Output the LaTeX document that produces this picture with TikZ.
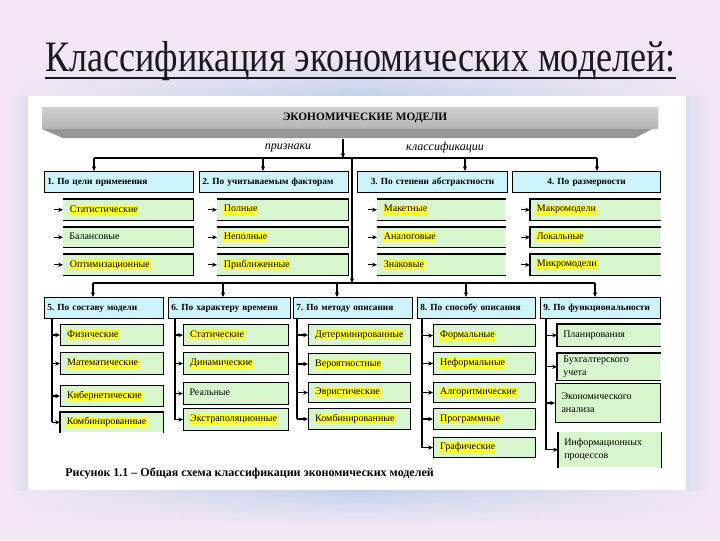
\documentclass[tikz,border=0pt]{standalone}
\usepackage{fontspec}
\setmainfont{Liberation Serif}
\usepackage{graphicx}
\usetikzlibrary{arrows.meta,calc,fadings}
\definecolor{bgbase}{RGB}{243,231,245}
\definecolor{glowblue}{RGB}{194,210,236}
\definecolor{hdrcyan}{RGB}{204,244,250}
\definecolor{itmgreen}{RGB}{216,246,206}
\definecolor{hlyellow}{RGB}{255,255,50}
\definecolor{barlight}{RGB}{208,208,208}
\definecolor{barmid}{RGB}{182,182,182}
\definecolor{bardark}{RGB}{150,150,150}
\definecolor{titlecol}{RGB}{25,25,30}
\tikzfading[name=hfade, left color=transparent!100, right color=transparent!100, middle color=transparent!0]
\tikzset{
  hdrbox/.style={anchor=north west, fill=hdrcyan, draw=black, line width=0.9pt, inner xsep=2pt, inner ysep=0pt, font=\bfseries\fontsize{7}{8.5}\selectfont},
  item/.style={anchor=north west, fill=itmgreen, inner xsep=4.5pt, inner ysep=0pt, align=left, font=\fontsize{7.5}{9.5}\selectfont},
  itemb/.style={draw=black, line width=0.8pt},
  edge/.style={line width=0.8pt},
  conn/.style={line width=0.9pt},
  arr/.style={conn, -{Stealth[length=3.6pt,width=3.2pt]}},
  lbl/.style={font=\itshape\fontsize{9}{10}\selectfont, inner sep=0pt},
}
\newcommand\hl[1]{{\setlength{\fboxsep}{0.5pt}\colorbox{hlyellow}{\vphantom{Ку}#1}}}
\newcommand\hdr[7][left]{\pgfmathsetmacro\hdrw{(#5-#3)*0.75-4}\pgfmathsetmacro\hdrh{(#6-#4)*0.75}%
  \node[hdrbox, align=#1, text width=\hdrw pt, minimum height=\hdrh pt] (#2) at (#3,#4) {\vphantom{Ку}#7};}
\newcommand\itm[7][]{\pgfmathsetmacro\itmw{(#5-#3)*0.75-9}\pgfmathsetmacro\itmh{(#6-#4)*0.75}%
  \node[item, #1, text width=\itmw pt, minimum height=\itmh pt] (#2) at (#3,#4) {\vphantom{Ку}#7};}
\newcommand\sTRB[1]{\draw[edge] (#1.north west) -- (#1.north east) -- (#1.south east) -- (#1.south west);}
\newcommand\sTB[1]{\draw[edge] (#1.north west) -- (#1.north east) (#1.south west) -- (#1.south east);}
\newcommand\sLTB[1]{\draw[edge] (#1.north east) -- (#1.north west) -- (#1.south west) -- (#1.south east);}
\newcommand\sLR[1]{\draw[edge] (#1.north west) -- (#1.south west) (#1.north east) -- (#1.south east);}
\newcommand\sLTR[1]{\draw[edge] (#1.south west) -- (#1.north west) -- (#1.north east) -- (#1.south east);}
\begin{document}
\frenchspacing
\begin{tikzpicture}[x=0.75pt,y=-0.75pt]
\useasboundingbox (0,0) rectangle (720,540);
% background
\fill[bgbase] (0,0) rectangle (720,540);
\shade[top color=bgbase, bottom color=glowblue, path fading=hfade] (0,56) rectangle (720,96);
\shade[top color=glowblue, bottom color=bgbase, path fading=hfade] (0,490) rectangle (720,526);
\shade[left color=bgbase, right color=glowblue!45!bgbase] (10,96) rectangle (28,490);
\shade[left color=glowblue!45!bgbase, right color=bgbase] (686,96) rectangle (710,490);
\fill[white] (28,96) rectangle (686,490);
% title
\node[inner sep=0pt, anchor=base, text=titlecol] (title) at (360.5,71)
  {\resizebox{473pt}{!}{\scalebox{1}[1.2]{\fontsize{28}{30}\selectfont Классификация экономических моделей:}}};
\draw[titlecol, line width=1.6pt] ($(title.base west)+(0,7)$) -- ($(title.base east)+(0,7)$);
% top bar
\fill[bardark] (42,107) -- (658,107) -- (658,126) -- (635,138) -- (63,138) -- (42,129) -- cycle;
\shade[top color=barlight, bottom color=barmid] (42,107) rectangle (658,128);
\node[font=\bfseries\fontsize{8.5}{10}\selectfont, inner sep=0pt] (bar) at (365,118) {ЭКОНОМИЧЕСКИЕ МОДЕЛИ};
\node[lbl] (lab1) at (288,148) {признаки};
\node[lbl] (lab2) at (445,148) {классификации};
% row 1 headers
\hdr{h1}{44}{171}{193}{192}{1. По цели применения}
\hdr{h2}{199}{171}{348}{192}{2. По учитываемым факторам}
\hdr[center]{h3}{357}{171}{507}{192}{3. По степени абстрактности}
\hdr[center]{h4}{512}{171}{660}{192}{4. По размерности}
% row 1 items
\itm{a1}{63}{199}{193}{220}{\hl{Статистические}}
\itm{a2}{63}{227}{193}{247}{Балансовые}
\itm{a3}{63}{254}{193}{275}{\hl{Оптимизационные}}
\itm{b1}{217}{199}{348}{220}{\hl{Полные}}
\itm{b2}{217}{227}{348}{247}{\hl{Неполные}}
\itm{b3}{217}{254}{348}{275}{\hl{Приближенные}}
\itm{c1}{377}{199}{505}{220}{\hl{Макетные}}
\itm{c2}{377}{227}{505}{247}{\hl{Аналоговые}}
\itm{c3}{377}{254}{505}{275}{\hl{Знаковые}}
\itm{d1}{530}{199}{660}{220}{\hl{Макромодели}}
\itm{d2}{530}{227}{660}{247}{\hl{Локальные}}
\itm{d3}{530}{254}{660}{275}{\hl{Микромодели}}
\foreach \n in {a1,a2,a3,b1,b2,b3} {\sTRB{\n}}
\foreach \n in {c1,c2,c3} {\sTB{\n}}
\foreach \n in {d1,d2,d3} {\sLTB{\n}}
\foreach \n in {a1,a2,a3,b1,b2,b3,c1,c2,c3,d1,d2,d3}
  {\draw[arr] ($(\n.west)+(-9,0)$) -- (\n.west);}
% top connectors
\coordinate (barout) at (343,139);
\coordinate (t0) at (343,158);
\coordinate (tl) at (94,158);
\coordinate (tr) at (597,158);
\coordinate (t2) at (263,158);
\coordinate (t3) at (465,158);
\coordinate (tj) at (352,158);
\coordinate (mj) at (352,283);
\coordinate (ml) at (93,283);
\coordinate (mr) at (595,283);
\coordinate (m6) at (223,283);
\coordinate (m7) at (337,283);
\coordinate (m8) at (466,283);
\draw[arr] (barout) -- (t0);
\draw[conn] (tl) -- (tr);
\draw[arr] (tl) -- (tl |- h1.north);
\draw[arr] (t2) -- (t2 |- h2.north);
\draw[arr] (t3) -- (t3 |- h3.north);
\draw[arr] (tr) -- (tr |- h4.north);
\draw[arr] (tj) -- (mj);
% row 2 headers
\hdr{h5}{44}{297}{163}{318}{5. По составу модели}
\hdr{h6}{168}{297}{290}{318}{6. По характеру времени}
\hdr{h7}{293}{297}{412}{318}{7. По методу описания}
\hdr{h8}{417}{297}{535}{318}{8. По способу описания}
\hdr{h9}{540}{297}{660}{318}{9. По функциональности}
\draw[conn] (ml) -- (mr);
\draw[arr] (ml) -- (ml |- h5.north);
\draw[arr] (m6) -- (m6 |- h6.north);
\draw[arr] (m7) -- (m7 |- h7.north);
\draw[arr] (m8) -- (m8 |- h8.north);
\draw[arr] (mr) -- (mr |- h9.north);
% row 2 items
\itm[itemb]{e1}{60}{324}{163}{345}{\hl{Физические}}
\itm[itemb]{e2}{60}{352}{163}{374}{\hl{Математические}}
\itm[itemb]{e3}{60}{385}{163}{406}{\hl{Кибернетические}}
\itm{e4}{60}{412}{163}{432}{\hl{Комбинированные}}
\sLTR{e4}
\itm[itemb]{f1}{183}{324}{288}{345}{\hl{Статические}}
\itm[itemb]{f2}{183}{352}{288}{374}{\hl{Динамические}}
\itm[itemb]{f3}{183}{382}{288}{404}{Реальные}
\itm[itemb]{f4}{183}{408}{288}{430}{\hl{Экстраполяционные}}
\itm[itemb]{g1}{308}{324}{410}{345}{\hl{Детерминированные}}
\itm[itemb]{g2}{308}{353}{410}{374}{\hl{Вероятностные}}
\itm[itemb]{g3}{308}{382}{410}{402}{\hl{Эвристические}}
\itm[itemb]{g4}{308}{408}{410}{429}{\hl{Комбинированные}}
\itm[itemb]{k1}{433}{324}{535}{346}{\hl{Формальные}}
\itm[itemb]{k2}{433}{352}{535}{374}{\hl{Неформальные}}
\itm[itemb]{k3}{433}{382}{535}{402}{\hl{Алгоритмические}}
\itm[itemb]{k4}{433}{408}{535}{429}{\hl{Программные}}
\itm[itemb]{k5}{433}{437}{535}{457}{\hl{Графические}}
\itm{p1}{557}{324}{660}{346}{Планирования}
\itm{p2}{557}{353}{660}{380}{Бухгалтерского учета}
\itm[itemb]{p3}{555}{383}{660}{422}{Экономического\\анализа}
\itm{p4}{558}{432}{661}{467}{Информационных\\процессов}
\sLTB{p1}
\sLTB{p2}
\sLR{p4}
% row 2 connectors
\coordinate (v5) at (52,318);
\coordinate (v6) at (175,318);
\coordinate (v7) at (297,318);
\coordinate (v8) at (422,318);
\coordinate (v9) at (546,318);
\draw[conn] (v5) -- (v5 |- e4.west);
\draw[conn] (v6) -- (v6 |- f4.west);
\draw[conn] (v7) -- (v7 |- g4.west);
\draw[conn] (v8) -- (v8 |- k5.west);
\draw[conn] (v9) -- (v9 |- p4.west);
\foreach \n in {e1,e2,e3,e4} {\draw[arr] (v5 |- \n.west) -- (\n.west);}
\foreach \n in {f1,f2,f3,f4} {\draw[arr] (v6 |- \n.west) -- (\n.west);}
\foreach \n in {g1,g2,g3,g4} {\draw[arr] (v7 |- \n.west) -- (\n.west);}
\foreach \n in {k1,k2,k3,k4,k5} {\draw[arr] (v8 |- \n.west) -- (\n.west);}
\foreach \n in {p1,p2,p3,p4} {\draw[arr] (v9 |- \n.west) -- (\n.west);}
% caption
\node[anchor=west, inner sep=0pt, font=\bfseries\fontsize{9}{10.5}\selectfont] (cap) at (65,473)
  {Рисунок 1.1 – Общая схема классификации экономических моделей};
\end{tikzpicture}
\end{document}
